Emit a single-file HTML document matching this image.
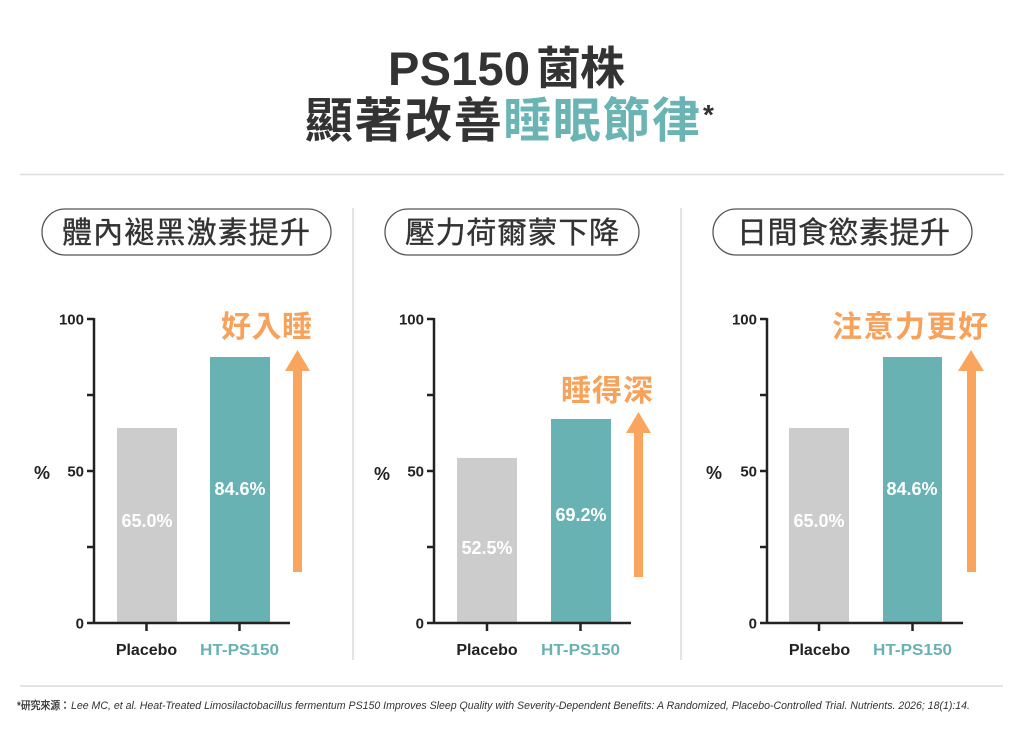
<!DOCTYPE html>
<html><head><meta charset="utf-8">
<style>
html,body{margin:0;padding:0;background:#fff;}
svg{display:block;}
text{font-family:"Liberation Sans","Noto Sans CJK TC",sans-serif;}
</style></head>
<body>
<svg width="1024" height="732" viewBox="0 0 1024 732" xmlns="http://www.w3.org/2000/svg">
<rect width="1024" height="732" fill="#fff"/>
<!-- Title -->
<text x="388" y="85" font-size="47" font-weight="700" fill="#333" textLength="142" lengthAdjust="spacing">PS150</text>
<text x="536" y="84" font-size="45" font-weight="700" fill="#333" textLength="89" lengthAdjust="spacing">菌株</text>
<text x="305" y="137" font-size="48" font-weight="700" fill="#333" textLength="395" lengthAdjust="spacing">顯著改善<tspan fill="#6ab4b4">睡眠節律</tspan></text>
<text x="703" y="124" font-size="28" font-weight="700" fill="#333">*</text>

<line x1="20" y1="174.5" x2="1004" y2="174.5" stroke="#dcdcdc" stroke-width="1.5"/>
<line x1="353" y1="208" x2="353" y2="660" stroke="#dcdcdc" stroke-width="1.5"/>
<line x1="681" y1="208" x2="681" y2="660" stroke="#dcdcdc" stroke-width="1.5"/>

<!-- Pills -->
<rect x="42" y="209" width="289" height="46" rx="23" fill="none" stroke="#555" stroke-width="1.3"/>
<text x="62" y="243" font-size="30" font-weight="400" fill="#333" stroke="#333" stroke-width="0.35" textLength="248" lengthAdjust="spacing">體內褪黑激素提升</text>
<rect x="385" y="209" width="254" height="46" rx="23" fill="none" stroke="#555" stroke-width="1.3"/>
<text x="405" y="243" font-size="30" font-weight="400" fill="#333" stroke="#333" stroke-width="0.35" textLength="214" lengthAdjust="spacing">壓力荷爾蒙下降</text>
<rect x="713" y="209" width="259" height="46" rx="23" fill="none" stroke="#555" stroke-width="1.3"/>
<text x="737" y="243" font-size="30" font-weight="400" fill="#333" stroke="#333" stroke-width="0.35" textLength="213" lengthAdjust="spacing">日間食慾素提升</text>

<!-- Panel 1 -->
<g>
<rect x="117" y="428" width="60" height="195" fill="#cccccc"/>
<rect x="210" y="357" width="60" height="266" fill="#69b2b3"/>
<g stroke="#222" stroke-width="2.5" fill="none">
<line x1="94" y1="318" x2="94" y2="624"/>
<line x1="87" y1="623" x2="290" y2="623"/>
<line x1="87" y1="319" x2="94" y2="319"/>
<line x1="87" y1="395" x2="94" y2="395"/>
<line x1="87" y1="471" x2="94" y2="471"/>
<line x1="87" y1="547" x2="94" y2="547"/>
<line x1="146.5" y1="623" x2="146.5" y2="631"/>
<line x1="239.5" y1="623" x2="239.5" y2="631"/>
</g>
<g font-size="15" font-weight="700" fill="#222" text-anchor="end">
<text x="84" y="324.5">100</text>
<text x="84" y="476.5">50</text>
<text x="84" y="628.5">0</text>
</g>
<text x="34" y="479" font-size="18" font-weight="700" fill="#222">%</text>
<text x="147" y="527" font-size="18" font-weight="700" fill="#fff" text-anchor="middle">65.0%</text>
<text x="240" y="495" font-size="18" font-weight="700" fill="#fff" text-anchor="middle">84.6%</text>
<text x="146.5" y="655" font-size="16" font-weight="700" fill="#222" text-anchor="middle">Placebo</text>
<text x="239.5" y="655" font-size="16" font-weight="700" fill="#69b2b3" text-anchor="middle" textLength="79" lengthAdjust="spacingAndGlyphs">HT-PS150</text>
<rect x="293" y="370" width="9" height="202" fill="#f9a55e"/>
<polygon points="285,371 310,371 297.5,350" fill="#f9a55e"/>
<text x="221" y="337" font-size="30" font-weight="700" fill="#f7a15b" textLength="91" lengthAdjust="spacing">好入睡</text>
</g>

<!-- Panel 2 -->
<g>
<rect x="457" y="458" width="60" height="165" fill="#cccccc"/>
<rect x="551" y="419" width="60" height="204" fill="#69b2b3"/>
<g stroke="#222" stroke-width="2.5" fill="none">
<line x1="434" y1="318" x2="434" y2="624"/>
<line x1="427" y1="623" x2="631" y2="623"/>
<line x1="427" y1="319" x2="434" y2="319"/>
<line x1="427" y1="395" x2="434" y2="395"/>
<line x1="427" y1="471" x2="434" y2="471"/>
<line x1="427" y1="547" x2="434" y2="547"/>
<line x1="487" y1="623" x2="487" y2="631"/>
<line x1="580.5" y1="623" x2="580.5" y2="631"/>
</g>
<g font-size="15" font-weight="700" fill="#222" text-anchor="end">
<text x="424" y="324.5">100</text>
<text x="424" y="476.5">50</text>
<text x="424" y="628.5">0</text>
</g>
<text x="374" y="480" font-size="18" font-weight="700" fill="#222">%</text>
<text x="487" y="554" font-size="18" font-weight="700" fill="#fff" text-anchor="middle">52.5%</text>
<text x="581" y="521" font-size="18" font-weight="700" fill="#fff" text-anchor="middle">69.2%</text>
<text x="487" y="655" font-size="16" font-weight="700" fill="#222" text-anchor="middle">Placebo</text>
<text x="580.5" y="655" font-size="16" font-weight="700" fill="#69b2b3" text-anchor="middle" textLength="79" lengthAdjust="spacingAndGlyphs">HT-PS150</text>
<rect x="634" y="432" width="9" height="145" fill="#f9a55e"/>
<polygon points="626,433 651,433 638.5,412" fill="#f9a55e"/>
<text x="561" y="401" font-size="30" font-weight="700" fill="#f7a15b" textLength="92" lengthAdjust="spacing">睡得深</text>
</g>

<!-- Panel 3 -->
<g>
<rect x="789" y="428" width="60" height="195" fill="#cccccc"/>
<rect x="883" y="357" width="59" height="266" fill="#69b2b3"/>
<g stroke="#222" stroke-width="2.5" fill="none">
<line x1="767" y1="318" x2="767" y2="624"/>
<line x1="760" y1="623" x2="963" y2="623"/>
<line x1="760" y1="319" x2="767" y2="319"/>
<line x1="760" y1="395" x2="767" y2="395"/>
<line x1="760" y1="471" x2="767" y2="471"/>
<line x1="760" y1="547" x2="767" y2="547"/>
<line x1="819" y1="623" x2="819" y2="631"/>
<line x1="912.5" y1="623" x2="912.5" y2="631"/>
</g>
<g font-size="15" font-weight="700" fill="#222" text-anchor="end">
<text x="757" y="324.5">100</text>
<text x="757" y="476.5">50</text>
<text x="757" y="628.5">0</text>
</g>
<text x="706" y="479" font-size="18" font-weight="700" fill="#222">%</text>
<text x="819" y="527" font-size="18" font-weight="700" fill="#fff" text-anchor="middle">65.0%</text>
<text x="912" y="495" font-size="18" font-weight="700" fill="#fff" text-anchor="middle">84.6%</text>
<text x="819.5" y="655" font-size="16" font-weight="700" fill="#222" text-anchor="middle">Placebo</text>
<text x="912.5" y="655" font-size="16" font-weight="700" fill="#69b2b3" text-anchor="middle" textLength="79" lengthAdjust="spacingAndGlyphs">HT-PS150</text>
<rect x="967" y="370" width="9" height="202" fill="#f9a55e"/>
<polygon points="958,371 984,371 971,350" fill="#f9a55e"/>
<text x="832" y="337" font-size="30" font-weight="700" fill="#f7a15b" textLength="156" lengthAdjust="spacing">注意力更好</text>
</g>

<!-- Footnote -->
<line x1="20" y1="686" x2="1003" y2="686" stroke="#dcdcdc" stroke-width="1.5"/>
<text x="17" y="709" font-size="11" font-weight="400" fill="#333" stroke="#333" stroke-width="0.3" textLength="53" lengthAdjust="spacingAndGlyphs">*研究來源：</text>
<text x="71" y="709" font-size="11" font-style="italic" fill="#333" textLength="899" lengthAdjust="spacingAndGlyphs">Lee MC, et al. Heat-Treated Limosilactobacillus fermentum PS150 Improves Sleep Quality with Severity-Dependent Benefits: A Randomized, Placebo-Controlled Trial. Nutrients. 2026; 18(1):14.</text>
</svg>
</body></html>
